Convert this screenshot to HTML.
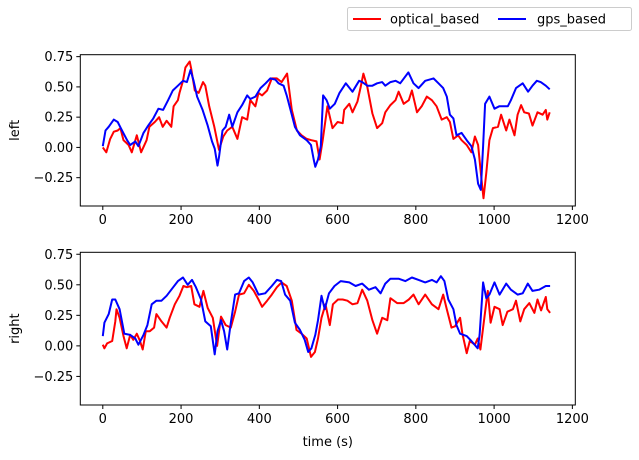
<!DOCTYPE html>
<html><head><meta charset="utf-8"><style>
body{margin:0;background:#fff;width:639px;height:455px;overflow:hidden}
text{font-family:"DejaVu Sans","Liberation Sans",sans-serif;font-size:13px;fill:#000}
</style></head><body>
<svg id="c" width="639" height="455" xmlns="http://www.w3.org/2000/svg"></svg>
<script>
const xTicks=[0,200,400,600,800,1000,1200];
const yTicks=[0.75,0.5,0.25,0,-0.25];
const yTickLabels=["0.75","0.50","0.25","0.00","\u22120.25"];
const leftRedT=[0,9,19,28,38,45,53,66,74,87,98,112,119,133,144,153,163,175,181,192,196,205,211,222,226,235,245,256,262,272,285,297,308,318,331,344,356,369,377,390,398,407,420,432,445,457,471,483,496,508,521,533,546,554,562,574,587,600,613,617,630,638,651,659,666,676,689,701,714,722,735,748,756,769,782,790,803,815,828,841,853,866,879,887,896,908,917,930,942,951,959,967,973,980,988,997,1010,1018,1031,1039,1052,1060,1069,1077,1089,1098,1111,1124,1132,1136,1142];
const leftRedV=[0,-0.04,0.07,0.13,0.14,0.16,0.06,0.02,-0.04,0.1,-0.04,0.06,0.17,0.21,0.25,0.17,0.22,0.17,0.34,0.39,0.45,0.55,0.66,0.71,0.65,0.47,0.45,0.54,0.51,0.34,0.17,-0.02,0.09,0.14,0.17,0.07,0.25,0.23,0.39,0.34,0.45,0.43,0.47,0.57,0.57,0.54,0.61,0.31,0.14,0.1,0.07,0.06,0.05,-0.1,0.06,0.34,0.16,0.21,0.2,0.31,0.36,0.29,0.38,0.5,0.61,0.5,0.28,0.16,0.2,0.29,0.35,0.39,0.46,0.36,0.39,0.47,0.29,0.34,0.42,0.39,0.34,0.23,0.25,0.21,0.07,0.1,0.06,0.02,-0.04,0.09,0.02,-0.24,-0.42,-0.21,0.06,0.16,0.17,0.27,0.14,0.23,0.1,0.27,0.35,0.29,0.28,0.18,0.29,0.27,0.31,0.23,0.29];
const leftBlueT=[0,7,15,28,38,49,62,70,83,91,104,116,129,142,154,167,179,192,205,215,224,232,241,255,268,279,286,293,297,306,314,323,331,344,356,369,377,390,403,416,428,441,449,462,470,483,491,504,521,532,539,543,550,557,563,572,580,593,605,621,638,655,663,676,689,701,714,722,735,748,760,781,794,807,824,845,858,870,879,887,896,904,917,930,942,951,959,966,972,977,988,1001,1013,1035,1043,1056,1073,1087,1098,1109,1119,1132,1142];
const leftBlueV=[0.01,0.14,0.17,0.23,0.21,0.14,0.06,0.02,0.05,0.01,0.12,0.18,0.24,0.32,0.31,0.39,0.47,0.51,0.55,0.54,0.64,0.55,0.42,0.31,0.18,0.05,-0.01,-0.15,-0.08,0.14,0.17,0.27,0.17,0.29,0.35,0.43,0.4,0.42,0.49,0.53,0.57,0.56,0.53,0.51,0.43,0.27,0.17,0.1,0.06,0.02,-0.1,-0.16,-0.1,0.01,0.43,0.39,0.32,0.36,0.45,0.53,0.46,0.55,0.54,0.51,0.51,0.53,0.54,0.51,0.54,0.55,0.53,0.62,0.53,0.49,0.55,0.57,0.53,0.49,0.42,0.27,0.24,0.1,0.12,0.06,0.01,-0.1,-0.3,-0.35,0.01,0.36,0.42,0.32,0.34,0.34,0.39,0.49,0.53,0.46,0.51,0.55,0.54,0.51,0.48];
const rightRedT=[0,4,11,24,32,35,43,53,61,70,78,87,95,102,110,120,131,137,150,163,171,184,196,206,215,226,234,247,257,268,281,292,302,314,327,338,348,361,373,386,398,407,420,432,445,457,470,483,495,508,521,532,542,550,559,569,580,588,601,613,625,638,651,663,676,689,701,714,727,735,752,769,782,794,807,824,841,858,870,879,891,900,913,919,930,938,951,958,965,974,984,991,1001,1014,1022,1034,1048,1056,1067,1077,1090,1103,1111,1120,1132,1136,1143];
const rightRedV=[0.01,-0.02,0.02,0.04,0.2,0.3,0.23,0.08,-0.02,0.09,0.05,0.1,0.04,-0.03,0.12,0.12,0.15,0.26,0.2,0.15,0.23,0.34,0.41,0.49,0.48,0.49,0.34,0.32,0.45,0.31,0.23,0,0.24,0.17,0.15,0.28,0.42,0.43,0.5,0.45,0.38,0.32,0.37,0.42,0.48,0.52,0.49,0.37,0.13,0.1,0.06,-0.09,-0.05,0.06,0.23,0.34,0.17,0.34,0.38,0.38,0.37,0.34,0.35,0.46,0.37,0.21,0.1,0.23,0.21,0.39,0.35,0.35,0.38,0.42,0.34,0.42,0.34,0.3,0.42,0.3,0.15,0.16,0.23,0.1,-0.06,0.04,0.01,0.06,-0.03,0.2,0.45,0.19,0.32,0.3,0.17,0.28,0.3,0.37,0.2,0.3,0.35,0.27,0.38,0.29,0.4,0.3,0.27];
const rightBlueT=[0,4,15,24,32,43,55,70,83,91,104,114,125,137,150,163,175,192,205,217,228,238,251,262,276,286,293,302,310,318,327,338,348,361,373,383,398,415,432,445,456,466,479,491,504,516,525,533,543,550,559,567,578,592,608,630,646,663,680,697,710,722,735,756,773,790,807,824,841,853,864,873,883,896,904,913,930,942,958,963,972,980,988,1001,1014,1031,1043,1060,1073,1086,1098,1115,1132,1143];
const rightBlueV=[0.08,0.19,0.26,0.38,0.38,0.3,0.1,0.09,0.06,0.01,0.09,0.17,0.34,0.37,0.37,0.41,0.46,0.53,0.56,0.5,0.54,0.48,0.38,0.2,0.16,-0.07,0.12,0.21,0.12,-0.03,0.19,0.42,0.43,0.53,0.56,0.52,0.42,0.43,0.49,0.54,0.53,0.42,0.37,0.19,0.13,0.05,-0.05,-0.02,0.09,0.21,0.41,0.3,0.43,0.49,0.53,0.52,0.49,0.51,0.46,0.48,0.43,0.51,0.55,0.55,0.53,0.56,0.54,0.52,0.54,0.52,0.57,0.53,0.38,0.3,0.17,0.1,0.08,0.04,-0.02,0.09,0.52,0.39,0.42,0.52,0.42,0.51,0.46,0.42,0.43,0.51,0.45,0.46,0.49,0.49];

const svg=document.getElementById('c');
const NS='http://www.w3.org/2000/svg';
const X0=80.3,X1=575.3,xMin=-57.5,xMax=1207.5;
const yMin=-0.484,yMax=0.766;
function sx(v){return X0+(v-xMin)/(xMax-xMin)*(X1-X0);}
function mk(tag,attrs,parent){const e=document.createElementNS(NS,tag);for(const k in attrs)e.setAttribute(k,attrs[k]);(parent||svg).appendChild(e);return e;}

function panel(top,bottom,name,label,redT,redV,blueT,blueV,showXLabel){
  const g=mk('g',{});
  
  
  const sy=v=>bottom-(v-yMin)/(yMax-yMin)*(bottom-top);
  function line(T,V,color,nm){
    let d='';T.forEach((t,i)=>{d+=(i?'L':'M')+sx(t).toFixed(1)+' '+sy(V[i]).toFixed(1);});
    const p=mk('path',{d:d,fill:'none',stroke:color,'stroke-width':2,'stroke-linejoin':'round'},g);
    
    
  }
  line(redT,redV,'#ff0000',name+'-optical-line');
  line(blueT,blueV,'#0000ff',name+'-gps-line');
  const fr=mk('rect',{x:X0,y:top,width:X1-X0,height:bottom-top,fill:'none',stroke:'#000','stroke-width':1},g);
  
  
  xTicks.forEach(t=>{
    const x=sx(t);
    mk('line',{x1:x,x2:x,y1:bottom,y2:bottom+4,stroke:'#000'},g);
    const tx=mk('text',{x:x,y:bottom+18,'text-anchor':'middle'},g);
    tx.textContent=t;
    
    
  });
  yTicks.forEach((t,i)=>{
    const y=sy(t);
    mk('line',{x1:X0-4,x2:X0,y1:y,y2:y,stroke:'#000'},g);
    const tx=mk('text',{x:X0-7,y:y+4.5,'text-anchor':'end'},g);
    tx.textContent=yTickLabels[i];
    
    
  });
  const cy=(top+bottom)/2;
  const yl=mk('text',{x:19,y:cy,'text-anchor':'middle',transform:'rotate(-90 19 '+cy+')'},g);
  yl.textContent=label;
  
  
  if(showXLabel){
    const xl=mk('text',{x:(X0+X1)/2,y:bottom+41,'text-anchor':'middle'},g);
    xl.textContent='time (s)';
    
    
  }
}
panel(54.7,206,'left','left',leftRedT,leftRedV,leftBlueT,leftBlueV,false);
panel(252.3,405,'right','right',rightRedT,rightRedV,rightBlueT,rightBlueV,true);

const lg=mk('g',{});


mk('rect',{x:347.5,y:7.5,width:284,height:23,rx:2,fill:'#fff',stroke:'#ccc'},lg);
const l1=mk('line',{x1:353,x2:381,y1:19,y2:19,stroke:'#ff0000','stroke-width':2},lg);


const t1=mk('text',{x:390,y:23.5},lg);t1.textContent='optical_based';


const l2=mk('line',{x1:498,x2:526,y1:19,y2:19,stroke:'#0000ff','stroke-width':2},lg);


const t2=mk('text',{x:537,y:23.5},lg);t2.textContent='gps_based';


</script>
</body></html>
